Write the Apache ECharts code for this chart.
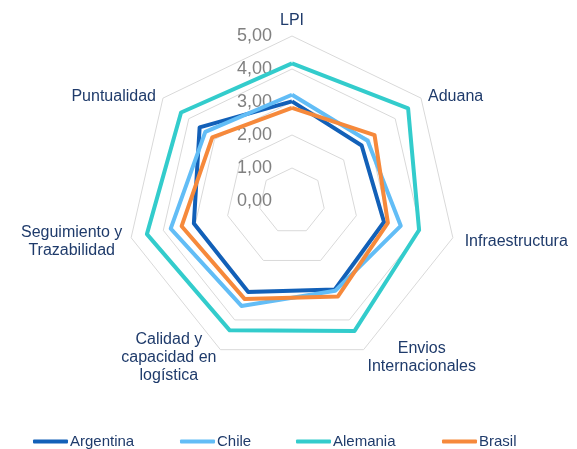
<!DOCTYPE html>
<html>
<head>
<meta charset="utf-8">
<script src="https://cdn.jsdelivr.net/npm/echarts@6/dist/echarts.min.js"></script>
<style>
html,body{margin:0;padding:0;background:#fff;}
#c{width:577px;height:449px;}
</style>
</head>
<body>
<div id="c"></div>
<script>
var indicators = ['LPI', 'Aduana', 'Infraestructura', 'Envios\nInternacionales', 'Calidad y\ncapacidad en\nlogística', 'Seguimiento y\nTrazabilidad', 'Puntualidad'];
var seriesNames = ['Argentina', 'Chile', 'Alemania', 'Brasil'];
var argentina = [3.02, 2.70, 2.86, 2.98, 3.06, 3.05, 3.58];
var chile     = [3.22, 2.93, 3.38, 3.02, 3.53, 3.77, 3.36];
var alemania  = [4.17, 4.50, 3.95, 4.37, 4.35, 4.51, 4.30];
var brasil    = [2.82, 3.20, 2.98, 3.21, 3.30, 3.43, 3.09];
var axisMin = 0, axisMax = 5;

var colors = ['#1260b8', '#62bdf6', '#33cccc', '#f6893b'];
var values = [argentina, chile, alemania, brasil];
var navy = '#1f3b6b';

// ECharts lays indicators counter-clockwise; reorder so they run clockwise
var order = [0, 6, 5, 4, 3, 2, 1];
function reorder(arr) { return order.map(function (k) { return arr[k]; }); }
// per-indicator name nudges (original order)
var namePad = [null, [8, 0, 0, 0], [3, 0, 0, 3], null, null, [3, 0, 0, 0], [8, 0, 0, 0]];
var nameGaps = [6, 9, 9, 9, 9, 9, 9];
var padOrdered = reorder(namePad);
var gapOrdered = reorder(nameGaps);

var chart = echarts.init(document.getElementById('c'));
var ind = reorder(indicators).map(function (n, i) {
  var o = { name: n, min: axisMin, max: axisMax, nameGap: gapOrdered[i] };
  if (padOrdered[i]) {
    o.nameTextStyle = { padding: padOrdered[i] };
  }
  if (i === 0) {
    o.axisLabel = { show: true };
  }
  return o;
});
var legendLefts = [33, 180, 296, 442];
chart.setOption({
  animation: false,
  color: colors,
  legend: seriesNames.map(function (n, i) {
    return {
      data: [n], left: legendLefts[i], top: 434, padding: 0, icon: 'roundRect',
      itemWidth: 35, itemHeight: 4, itemGap: 0,
      textStyle: { color: navy, fontSize: 15, fontFamily: 'Liberation Sans', padding: [0, 0, 0, -3] }
    };
  }),
  radar: {
    center: [292, 201],
    radius: 165,
    splitNumber: 5,
    shape: 'polygon',
    startAngle: 90,
    indicator: ind,
    axisName: {
      color: navy, fontSize: 16, fontFamily: 'Liberation Sans', lineHeight: 18,
      formatter: function (name) {
        return name.split('\n').map(function (s) { return '{c|' + s + '}'; }).join('\n');
      },
      rich: { c: { align: 'center', color: navy, fontSize: 16, fontFamily: 'Liberation Sans', lineHeight: 18 } }
    },
    nameGap: 9,
    axisLine: { show: false },
    axisTick: { show: false },
    axisLabel: {
      show: false, color: '#808080', fontSize: 18, fontFamily: 'Liberation Sans', margin: 20,
      formatter: function (v) { return v.toFixed(2).replace('.', ','); }
    },
    splitLine: { lineStyle: { color: '#d9d9d9', width: 1 } },
    splitArea: { show: false }
  },
  series: [{
    type: 'radar',
    symbol: 'none',
    data: seriesNames.map(function (n, i) {
      return { name: n, value: reorder(values[i]), lineStyle: { width: 4, color: colors[i] }, itemStyle: { color: colors[i] } };
    })
  }]
});
</script>
</body>
</html>
